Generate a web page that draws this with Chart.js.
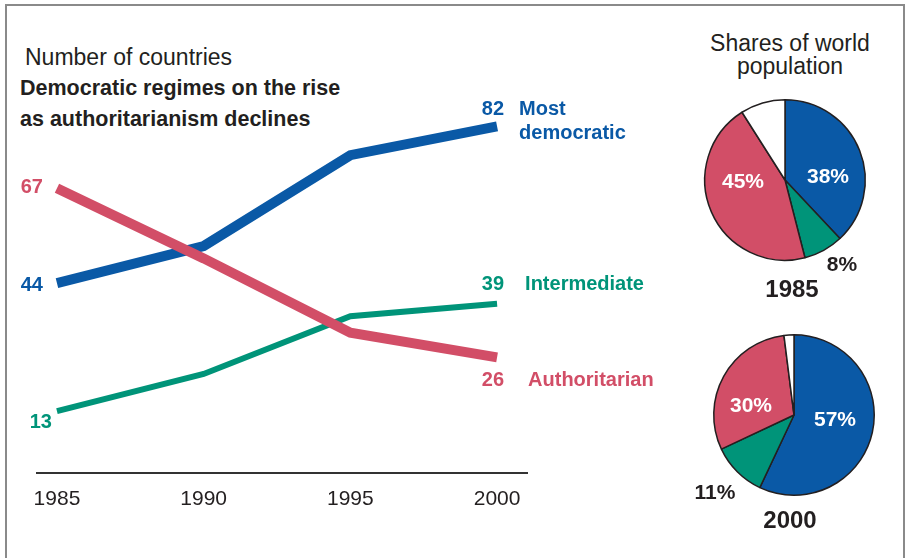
<!DOCTYPE html>
<html>
<head>
<meta charset="utf-8">
<script src="https://cdn.jsdelivr.net/npm/chart.js@4.4.1/dist/chart.umd.min.js"></script>
<style>
  body { margin: 0; background: #fff; width: 906px; height: 558px; overflow: hidden; position: relative;
         font-family: "Liberation Sans", Arial, sans-serif; color: #231f20; }
  .frame { position: absolute; left: 5px; top: 4px; width: 896px; height: 600px;
           border-left: 2px solid #8a8a8a; border-top: 2px solid #8a8a8a; border-right: 2px solid #8a8a8a; }
  .txt { position: absolute; white-space: nowrap; line-height: 1; }
  canvas { position: absolute; }
</style>
</head>
<body>
<div class="frame"></div>
<div class="txt" style="left:25px; top:46px; font-size:23px;">Number of countries</div>
<div class="txt" style="left:20px; top:78px; font-size:21.5px; font-weight:bold;">Democratic regimes on the rise</div>
<div class="txt" style="left:20px; top:109px; font-size:21.5px; font-weight:bold;">as authoritarianism declines</div>
<div class="txt" style="left:690px; top:32px; width:200px; text-align:center; font-size:23px; line-height:23px;">Shares of world<br>population</div>

<canvas id="graphique" width="680" height="558" style="left:0; top:0;"></canvas>
<canvas id="pie1985" width="200" height="220" style="left:690px; top:90px;"></canvas>
<canvas id="pie2000" width="220" height="220" style="left:680px; top:325px;"></canvas>

<script>
// donnees du graphique
const annees = [1985, 1990, 1995, 2000];
const mostDemocratic = [44, 53, 75, 82];
const intermediate = [13, 22, 36, 39];
const authoritarian = [67, 50, 32, 26];
const nomsSeries = ['Most democratic', 'Intermediate', 'Authoritarian'];

// parts de la population mondiale
const categoriesPie = ['Most democratic', 'Intermediate', 'Authoritarian', 'Other'];
const parts1985 = [38, 8, 45, 9];
const parts2000 = [57, 11, 30, 2];

const BLEU = '#0a59a6';
const VERT = '#009479';
const ROUGE = '#d24e67';
const police = '"Liberation Sans", Arial, sans-serif';

function points(valeurs) {
    return annees.map((a, i) => ({ x: a, y: valeurs[i] }));
}

// etiquettes au debut et a la fin des lignes
const etiquettesLignes = {
    id: 'etiquettesLignes',
    afterDatasetsDraw(chart) {
        const ctx = chart.ctx;
        ctx.save();
        ctx.font = 'bold 20px ' + police;
        ctx.textBaseline = 'middle';
        chart.data.datasets.forEach((ds, i) => {
            const meta = chart.getDatasetMeta(i);
            const debut = meta.data[0];
            const fin = meta.data[meta.data.length - 1];
            const o = ds.etiquettes;
            ctx.fillStyle = ds.borderColor;
            ctx.textAlign = 'right';
            ctx.fillText(String(ds.data[0].y), debut.x + o.debut[0], debut.y + o.debut[1]);
            ctx.fillText(String(ds.data[ds.data.length - 1].y), fin.x + o.fin[0], fin.y + o.fin[1]);
            ctx.textAlign = 'left';
            o.nom.forEach((ligne, k) => {
                ctx.fillText(ligne, fin.x + o.nomPos[0], fin.y + o.nomPos[1] + k * 24);
            });
        });
        ctx.restore();
    }
};

const graph = document.getElementById('graphique');

new Chart(graph, {
    type: 'line',
    data: {
        datasets: [
            {
                label: nomsSeries[2],
                data: points(authoritarian),
                borderColor: ROUGE,
                borderWidth: 10,
                etiquettes: { debut: [-14, -1], fin: [7, 23], nom: ['Authoritarian'], nomPos: [31, 23] }
            },
            {
                label: nomsSeries[0],
                data: points(mostDemocratic),
                borderColor: BLEU,
                borderWidth: 10,
                etiquettes: { debut: [-14, 2], fin: [7, -17], nom: ['Most', 'democratic'], nomPos: [22, -17] }
            },
            {
                label: nomsSeries[1],
                data: points(intermediate),
                borderColor: VERT,
                borderWidth: 6,
                etiquettes: { debut: [-5, 11], fin: [7, -19], nom: ['Intermediate'], nomPos: [28, -19] }
            }
        ]
    },
    options: {
        responsive: false,
        animation: false,
        devicePixelRatio: 1,
        layout: { padding: { left: 37, right: 153, top: 52, bottom: 0 } },
        elements: {
            point: { radius: 0 },
            line: { tension: 0, borderCapStyle: 'butt', borderJoinStyle: 'miter', fill: false }
        },
        plugins: { legend: { display: false }, tooltip: { enabled: false } },
        scales: {
            x: {
                type: 'linear',
                min: 1984.32,
                max: 2001.02,
                afterBuildTicks: scale => { scale.ticks = annees.map(a => ({ value: a })); },
                afterFit: scale => { scale.height = 85; },
                grid: { display: false, drawTicks: false },
                border: { display: true, color: '#333', width: 2 },
                ticks: {
                    padding: 14,
                    color: '#231f20',
                    font: { family: police, size: 21 },
                    callback: v => String(v)
                }
            },
            y: {
                display: false,
                min: -2,
                max: 100
            }
        }
    },
    plugins: [etiquettesLignes]
});

// etiquettes des camemberts
const etiquettesPie = {
    id: 'etiquettesPie',
    afterDatasetsDraw(chart, args, opts) {
        const ctx = chart.ctx;
        const a = chart.chartArea;
        const cx = (a.left + a.right) / 2;
        const cy = (a.top + a.bottom) / 2;
        const vals = chart.data.datasets[0].data;
        ctx.save();
        ctx.textAlign = 'center';
        ctx.textBaseline = 'middle';
        ctx.font = 'bold 21px ' + police;
        opts.positions.forEach((p, i) => {
            if (!p) return;
            ctx.fillStyle = p[2];
            ctx.fillText(vals[i] + '%', cx + p[0], cy + p[1]);
        });
        ctx.font = 'bold 24px ' + police;
        ctx.fillStyle = '#231f20';
        ctx.fillText(opts.annee, cx + opts.anneePos[0], cy + opts.anneePos[1]);
        ctx.restore();
    }
};

function creerPie(id, parts, annee, padding, positions, anneePos) {
    new Chart(document.getElementById(id), {
        type: 'pie',
        data: {
            labels: categoriesPie,
            datasets: [{
                data: parts,
                backgroundColor: [BLEU, VERT, ROUGE, '#ffffff'],
                borderColor: '#231f20',
                borderWidth: 1.5
            }]
        },
        options: {
            responsive: false,
            animation: false,
            devicePixelRatio: 1,
            layout: { padding: padding },
            plugins: {
                legend: { display: false },
                tooltip: { enabled: false },
                etiquettesPie: { positions: positions, annee: annee, anneePos: anneePos }
            }
        },
        plugins: [etiquettesPie]
    });
}

creerPie('pie1985', parts1985, '1985',
    { left: 14, right: 24, top: 9, bottom: 49 },
    [[43, -3, '#fff'], [57, 85, '#231f20'], [-42, 2, '#fff'], null],
    [7, 110]);

creerPie('pie2000', parts2000, '2000',
    { left: 33, right: 25, top: 9, bottom: 49 },
    [[41, 5, '#fff'], [-79, 78, '#231f20'], [-43, -9, '#fff'], null],
    [-4, 106]);
</script>
</body>
</html>
